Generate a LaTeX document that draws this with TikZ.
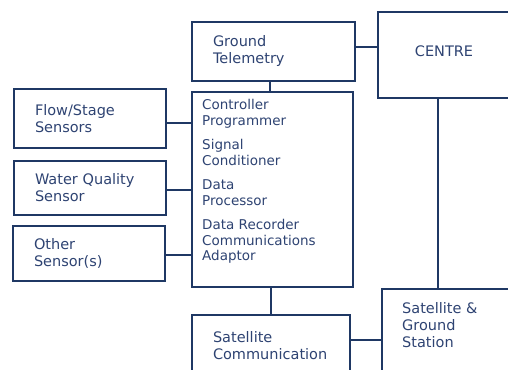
\documentclass[tikz,border=0pt]{standalone}
\usepackage{fontspec}
\setmainfont{DejaVu Sans}
\usepackage{tikz}

\definecolor{boxline}{HTML}{1F3864}
\definecolor{boxtext}{HTML}{2E4372}

\tikzset{
	unit/.style={draw=boxline, line width=2pt, text=boxtext, anchor=north west,
		font=\fontsize{14.5}{17}\selectfont, align=left, inner xsep=21pt,
		text width=#1},
	link/.style={draw=boxline, line width=2pt}
}

\begin{document}
\begin{tikzpicture}[x=1pt, y=-1pt]
	\useasboundingbox (0,0) rectangle (508,369);

	% Draw boxes
	%Top row
	\node[unit=121pt, minimum width=163pt, minimum height=59pt] (telemetry) at (191,21) {Ground\\Telemetry};
	\node[unit=90pt, align=center, minimum width=132pt, minimum height=86pt, text depth=8pt] (centre) at (377,11) {CENTRE};

	%Sensors
	\node[unit=110pt, minimum width=152pt, minimum height=59pt] (flow) at (13,88) {Flow/Stage\\Sensors};
	\node[unit=110pt, minimum width=152pt, minimum height=54pt] (quality) at (13,160) {Water Quality\\Sensor};
	\node[unit=110pt, minimum width=152pt, minimum height=55pt] (other) at (12,225) {Other\\Sensor(s)};

	%Logger
	\node[unit=119pt, minimum width=161pt, minimum height=195pt] (logger) at (191,91) {};
	\node[anchor=north west, inner sep=0pt, text=boxtext, align=left,
		font=\fontsize{13.5}{15.5}\selectfont] (loggertext) at ([xshift=11pt, yshift=-8.5pt]logger.north west)
		{Controller\\Programmer\\[9pt]Signal\\Conditioner\\[9pt]Data\\Processor\\[9pt]Data Recorder\\Communications\\Adaptor};

	%Bottom row
	\node[unit=116pt, minimum width=158pt, minimum height=62pt] (satcomm) at (191,314) {Satellite\\Communication};
	\node[unit=98pt, minimum width=140pt, minimum height=100pt] (station) at (381,288) {};
	\node[anchor=north west, inner sep=0pt, text=boxtext, align=left,
		font=\fontsize{14.5}{17}\selectfont] (stationtext) at ([xshift=21pt, yshift=-14.5pt]station.north west)
		{Satellite \&\\Ground\\Station};

	% Draw links
	\draw[link] ([yshift=4.5pt]telemetry.east) -- ([yshift=4.5pt]telemetry.east -| centre.west);
	\draw[link] ([xshift=-4pt]telemetry.south) -- ([xshift=-4pt]telemetry.south |- logger.north);
	\draw[link] ([yshift=-4.5pt]flow.east) -- ([yshift=-4.5pt]flow.east -| logger.west);
	\draw[link] ([yshift=-2pt]quality.east) -- ([yshift=-2pt]quality.east -| logger.west);
	\draw[link] ([yshift=-1.5pt]other.east) -- ([yshift=-1.5pt]other.east -| logger.west);
	\draw[link] (satcomm.north) -- (satcomm.north |- logger.south);
	\draw[link] ([yshift=6pt]satcomm.east) -- ([yshift=6pt]satcomm.east -| station.west);
	\draw[link] ([xshift=-6pt]centre.south) -- ([xshift=-6pt]centre.south |- station.north);

\end{tikzpicture}
\end{document}
